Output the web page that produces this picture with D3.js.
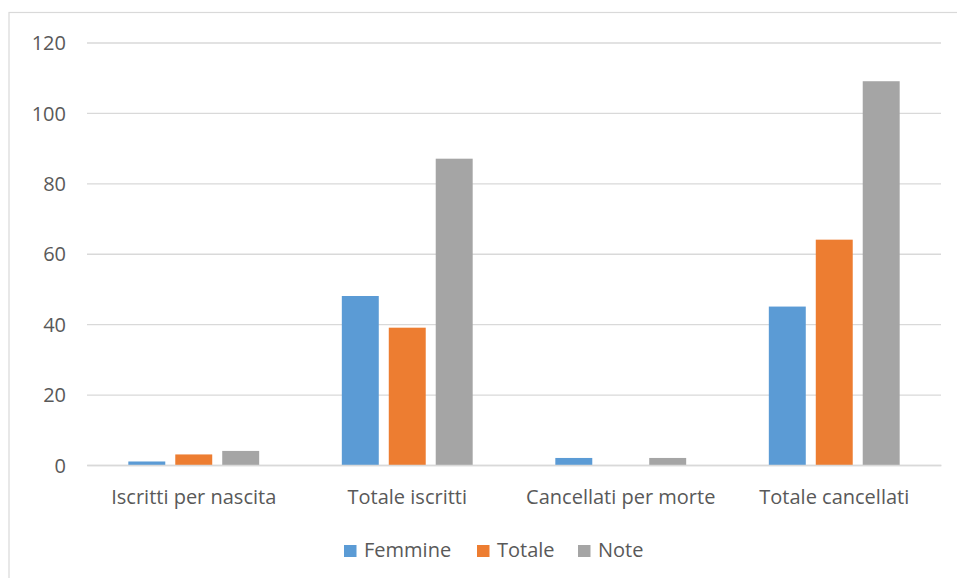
<!DOCTYPE html>
<html><head><meta charset="utf-8">
<script src="https://cdn.jsdelivr.net/npm/d3@7"></script>
<style>body{margin:0;background:#fff}svg text{font-family:"Open Sans","Liberation Sans",sans-serif;fill:#595959}</style>
</head><body><svg id="c" width="957" height="578"></svg>
<script>
const categories = ["Iscritti per nascita","Totale iscritti","Cancellati per morte","Totale cancellati"];
const seriesNames = ["Femmine","Totale","Note"];
const femmine = [1,48,2,45];
const totale = [3,39,0,64];
const note = [4,87,2,109];
const yTicks = [0,20,40,60,80,100,120];
const colors = ["#5b9bd5","#ed7d31","#a5a5a5"];

const FS = 20;
const svg = d3.select("#c");
svg.append("rect").attr("x",9).attr("y",12.5).attr("width",960).attr("height",580)
  .attr("fill","none").attr("stroke","#d9d9d9").attr("stroke-width",1.2);

const L=87,R=941,T=42.5,B=465;
const x = d3.scaleBand().domain(categories).range([L,R]).paddingInner(0).paddingOuter(0);
const y = d3.scaleLinear().domain([0,120]).range([B,T]);
const inner = d3.scaleBand().domain(seriesNames).range([0,x.bandwidth()]).paddingInner(0.213).paddingOuter(0.88);

const gy = svg.append("g").attr("transform",`translate(${L},0)`)
  .call(d3.axisLeft(y).tickValues(yTicks).tickSize(-(R-L)).tickPadding(21));
gy.select(".domain").remove();
gy.selectAll("line").attr("stroke","#d9d9d9").attr("stroke-width",1.3);
gy.selectAll("text").attr("font-size",FS).style("fill","#595959").attr("dy","0.36em");

const data = [femmine,totale,note];
seriesNames.forEach((s,i)=>{
  svg.append("g").selectAll("rect").data(categories).join("rect")
    .attr("x",c=>x(c)+inner(s)).attr("width",inner.bandwidth())
    .attr("y",(c,j)=>y(data[i][j])).attr("height",(c,j)=>B-y(data[i][j]))
    .attr("fill",colors[i]);
});

const gx = svg.append("g").attr("transform",`translate(0,${B})`)
  .call(d3.axisBottom(x).tickSize(0).tickPadding(25));
gx.select(".domain").attr("stroke","#d9d9d9").attr("stroke-width",1.3);
gx.selectAll("text").attr("font-size",FS).style("fill","#595959");

const legX=[344,477,578];
const lg = svg.append("g");
seriesNames.forEach((s,i)=>{
  lg.append("rect").attr("x",legX[i]).attr("y",545).attr("width",12.5).attr("height",12).attr("fill",colors[i]);
  lg.append("text").attr("x",legX[i]+20).attr("y",550).attr("dy","0.36em").attr("font-size",FS).text(s);
});
</script></body></html>
